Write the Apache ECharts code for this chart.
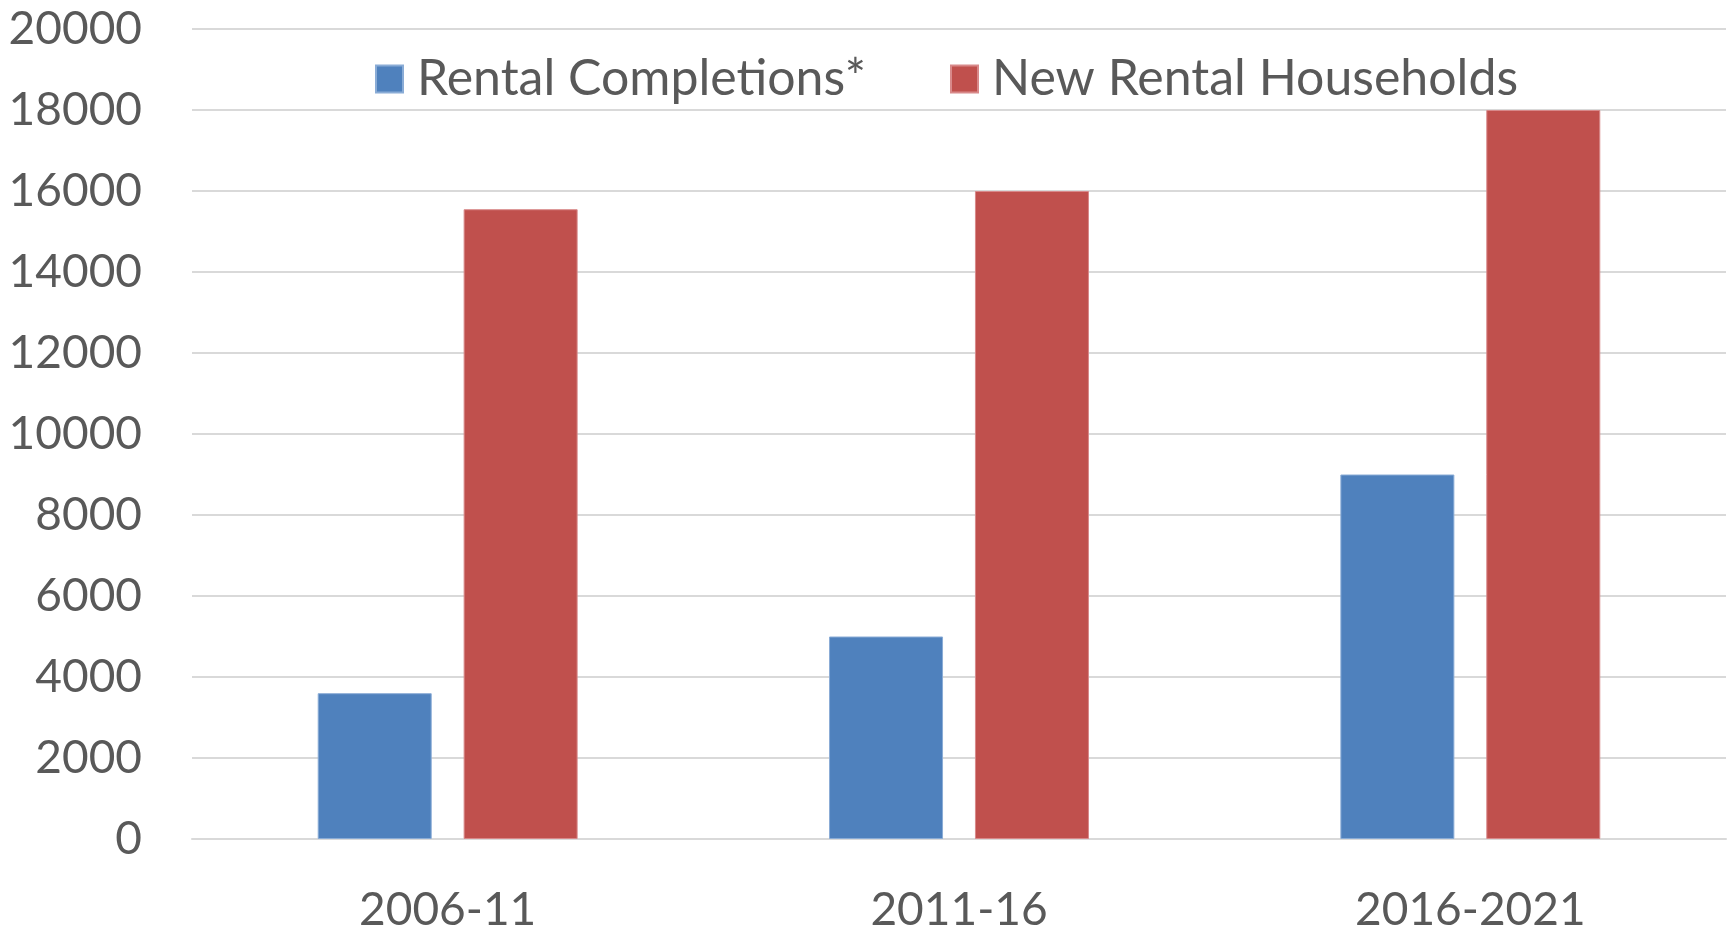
<!DOCTYPE html>
<html>
<head>
<meta charset="utf-8">
<title>Rental completions vs new rental households</title>
<script src="https://cdn.jsdelivr.net/npm/echarts@6/dist/echarts.min.js"></script>
<style>
  html, body { margin: 0; padding: 0; background: #fff; }
  #chart { width: 1729px; height: 933px; }
</style>
</head>
<body>
<div id="chart"></div>
<script>
  // data
  const periods = ['2006-11', '2011-16', '2016-2021'];
  const rentalCompletions = [3600, 5000, 9000];
  const newRentalHouseholds = [15550, 16000, 18000];

  const TEXT = '#595959';
  const GRID = '#d9d9d9';
  const FONT = "Lato, 'Open Sans', sans-serif";

  const chart = echarts.init(document.getElementById('chart'));

  chart.setOption({
    backgroundColor: '#fff',
    animation: false,
    textStyle: { fontFamily: FONT, color: TEXT },
    legend: {
      left: 370,
      top: 49,
      icon: 'rect',
      itemWidth: 27,
      itemHeight: 27,
      itemGap: 84,
      textStyle: { fontFamily: FONT, fontSize: 50, color: TEXT, padding: [0, 0, 0, 9] },
      data: ['Rental Completions*', 'New Rental Households']
    },
    grid: { left: 192, right: 3, top: 29, bottom: 87 },
    xAxis: {
      type: 'category',
      data: periods,
      axisLine: { show: true, lineStyle: { color: GRID, width: 2 } },
      axisTick: { show: false },
      axisLabel: { fontFamily: FONT, fontSize: 46, color: TEXT, margin: 48 }
    },
    yAxis: {
      type: 'value',
      min: 0,
      max: 20000,
      interval: 2000,
      axisLine: { show: false },
      axisTick: { show: false },
      splitLine: { lineStyle: { color: GRID, width: 2 } },
      axisLabel: { fontFamily: FONT, fontSize: 46, color: TEXT, margin: 50, formatter: v => String(v) }
    },
    series: [
      {
        name: 'Rental Completions*',
        type: 'bar',
        data: rentalCompletions,
        barWidth: 114,
        barGap: '28%',
        itemStyle: { color: '#4f81bd', borderColor: '#8aacd6', borderWidth: 1 }
      },
      {
        name: 'New Rental Households',
        type: 'bar',
        data: newRentalHouseholds,
        barWidth: 114,
        barGap: '28%',
        itemStyle: { color: '#c0504d', borderColor: '#d8898a', borderWidth: 1 }
      }
    ]
  });
</script>
</body>
</html>
